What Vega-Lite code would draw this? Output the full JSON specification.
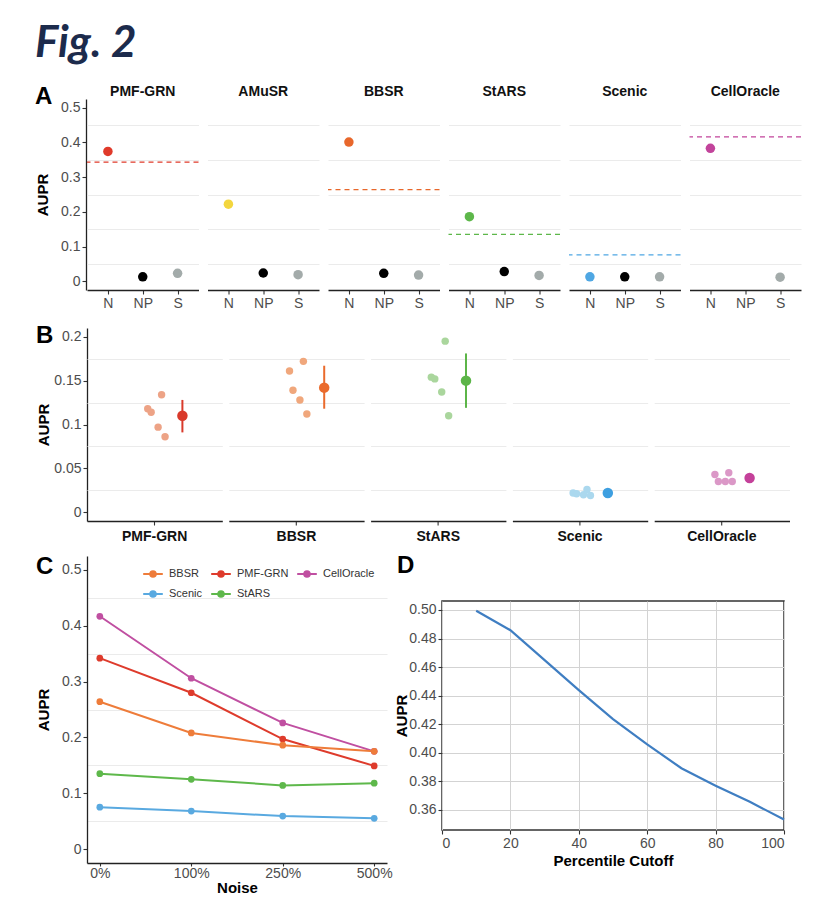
{
  "$schema": "https://vega.github.io/schema/vega-lite/v6.json",
  "background": "white",
  "padding": {"left": 35, "top": 22, "right": 5, "bottom": 5},
  "title": {"text": "Fig. 2", "anchor": "start", "frame": "bounds", "font": "Lato", "fontSize": 44, "fontStyle": "italic", "fontWeight": "bold", "color": "#1C2B4C", "offset": 19},
  "spacing": 10,
  "resolve": {"scale": {"color": "independent"}, "legend": {"color": "independent"}},
  "config": {
    "font": "Liberation Sans",
    "view": {"stroke": null},
    "axis": {"labelColor": "#4D4D4D", "labelFontSize": 14, "titleFontSize": 15, "titleFontWeight": "bold", "titleColor": "#000000", "domainColor": "#222222", "domainWidth": 1.3, "tickColor": "#333333", "tickSize": 4, "tickWidth": 1.1, "labelPadding": 2, "gridColor": "#EBEBEB", "gridWidth": 1},
    "header": {"labelFontSize": 14, "labelFontWeight": "bold", "labelColor": "#111111"},
    "title": {"fontSize": 24, "fontWeight": "bold", "color": "#000000", "anchor": "start", "frame": "bounds"},
    "legend": {"labelFontSize": 11, "labelColor": "#333333"}
  },
  "datasets": {
    "perf": [
      {"method": "PMF-GRN", "cond": "N", "grp": "PMF-GRN", "aupr": 0.374},
      {"method": "PMF-GRN", "cond": "NP", "grp": "NP", "aupr": 0.013},
      {"method": "PMF-GRN", "cond": "S", "grp": "S", "aupr": 0.023},
      {"method": "PMF-GRN", "grp": "PMF-GRN", "baseline": 0.343},
      {"method": "AMuSR", "cond": "N", "grp": "AMuSR", "aupr": 0.222},
      {"method": "AMuSR", "cond": "NP", "grp": "NP", "aupr": 0.024},
      {"method": "AMuSR", "cond": "S", "grp": "S", "aupr": 0.019},
      {"method": "BBSR", "cond": "N", "grp": "BBSR", "aupr": 0.401},
      {"method": "BBSR", "cond": "NP", "grp": "NP", "aupr": 0.023},
      {"method": "BBSR", "cond": "S", "grp": "S", "aupr": 0.018},
      {"method": "BBSR", "grp": "BBSR", "baseline": 0.264},
      {"method": "StARS", "cond": "N", "grp": "StARS", "aupr": 0.186},
      {"method": "StARS", "cond": "NP", "grp": "NP", "aupr": 0.028},
      {"method": "StARS", "cond": "S", "grp": "S", "aupr": 0.017},
      {"method": "StARS", "grp": "StARS", "baseline": 0.135},
      {"method": "Scenic", "cond": "N", "grp": "Scenic", "aupr": 0.013},
      {"method": "Scenic", "cond": "NP", "grp": "NP", "aupr": 0.013},
      {"method": "Scenic", "cond": "S", "grp": "S", "aupr": 0.013},
      {"method": "Scenic", "grp": "Scenic", "baseline": 0.076},
      {"method": "CellOracle", "cond": "N", "grp": "CellOracle", "aupr": 0.383},
      {"method": "CellOracle", "cond": "S", "grp": "S", "aupr": 0.012},
      {"method": "CellOracle", "grp": "CellOracle", "baseline": 0.416}
    ],
    "reps": [
      {"method": "PMF-GRN", "sample": "r1", "aupr": 0.134},
      {"method": "PMF-GRN", "sample": "r2", "aupr": 0.118},
      {"method": "PMF-GRN", "sample": "r3", "aupr": 0.114},
      {"method": "PMF-GRN", "sample": "r4", "aupr": 0.097},
      {"method": "PMF-GRN", "sample": "r5", "aupr": 0.086},
      {"method": "PMF-GRN", "sample": "mean", "aupr": 0.110, "lo": 0.091, "hi": 0.128},
      {"method": "BBSR", "sample": "r1", "aupr": 0.172},
      {"method": "BBSR", "sample": "r2", "aupr": 0.161},
      {"method": "BBSR", "sample": "r3", "aupr": 0.139},
      {"method": "BBSR", "sample": "r4", "aupr": 0.128},
      {"method": "BBSR", "sample": "r5", "aupr": 0.112},
      {"method": "BBSR", "sample": "mean", "aupr": 0.142, "lo": 0.118, "hi": 0.167},
      {"method": "StARS", "sample": "r1", "aupr": 0.195},
      {"method": "StARS", "sample": "r2", "aupr": 0.154},
      {"method": "StARS", "sample": "r3", "aupr": 0.152},
      {"method": "StARS", "sample": "r4", "aupr": 0.137},
      {"method": "StARS", "sample": "r5", "aupr": 0.110},
      {"method": "StARS", "sample": "mean", "aupr": 0.150, "lo": 0.119, "hi": 0.181},
      {"method": "Scenic", "sample": "r1", "aupr": 0.026},
      {"method": "Scenic", "sample": "r2", "aupr": 0.022},
      {"method": "Scenic", "sample": "r3", "aupr": 0.021},
      {"method": "Scenic", "sample": "r4", "aupr": 0.020},
      {"method": "Scenic", "sample": "r5", "aupr": 0.019},
      {"method": "Scenic", "sample": "mean", "aupr": 0.022, "lo": 0.020, "hi": 0.024},
      {"method": "CellOracle", "sample": "r1", "aupr": 0.045},
      {"method": "CellOracle", "sample": "r2", "aupr": 0.043},
      {"method": "CellOracle", "sample": "r3", "aupr": 0.035},
      {"method": "CellOracle", "sample": "r4", "aupr": 0.035},
      {"method": "CellOracle", "sample": "r5", "aupr": 0.035},
      {"method": "CellOracle", "sample": "mean", "aupr": 0.039, "lo": 0.034, "hi": 0.044}
    ],
    "noise": [
      {"method": "CellOracle", "noise": "0%", "aupr": 0.417},
      {"method": "CellOracle", "noise": "100%", "aupr": 0.306},
      {"method": "CellOracle", "noise": "250%", "aupr": 0.226},
      {"method": "CellOracle", "noise": "500%", "aupr": 0.175},
      {"method": "PMF-GRN", "noise": "0%", "aupr": 0.342},
      {"method": "PMF-GRN", "noise": "100%", "aupr": 0.280},
      {"method": "PMF-GRN", "noise": "250%", "aupr": 0.197},
      {"method": "PMF-GRN", "noise": "500%", "aupr": 0.149},
      {"method": "BBSR", "noise": "0%", "aupr": 0.264},
      {"method": "BBSR", "noise": "100%", "aupr": 0.208},
      {"method": "BBSR", "noise": "250%", "aupr": 0.186},
      {"method": "BBSR", "noise": "500%", "aupr": 0.175},
      {"method": "StARS", "noise": "0%", "aupr": 0.135},
      {"method": "StARS", "noise": "100%", "aupr": 0.125},
      {"method": "StARS", "noise": "250%", "aupr": 0.114},
      {"method": "StARS", "noise": "500%", "aupr": 0.118},
      {"method": "Scenic", "noise": "0%", "aupr": 0.075},
      {"method": "Scenic", "noise": "100%", "aupr": 0.068},
      {"method": "Scenic", "noise": "250%", "aupr": 0.059},
      {"method": "Scenic", "noise": "500%", "aupr": 0.055}
    ],
    "cutoff": [
      {"pct": 10, "aupr": 0.4995},
      {"pct": 20, "aupr": 0.4858},
      {"pct": 30, "aupr": 0.4648},
      {"pct": 40, "aupr": 0.4438},
      {"pct": 50, "aupr": 0.4235},
      {"pct": 60, "aupr": 0.4058},
      {"pct": 70, "aupr": 0.3890},
      {"pct": 80, "aupr": 0.3768},
      {"pct": 90, "aupr": 0.3655},
      {"pct": 100, "aupr": 0.3530}
    ]
  },
  "vconcat": [
    {
      "spacing": 14,
      "resolve": {"scale": {"color": "independent"}, "legend": {"color": "independent"}},
      "vconcat": [
        {
          "data": {"name": "perf"},
          "title": {"text": "A", "dy": 28},
          "spacing": 6.5,
          "facet": {"column": {"field": "method", "type": "nominal", "sort": ["PMF-GRN", "AMuSR", "BBSR", "StARS", "Scenic", "CellOracle"], "title": null, "header": {"labelPadding": 0}}},
          "spec": {
            "width": 111.5,
            "height": 191,
            "layer": [
              {
                "transform": [{"filter": "isValid(datum.aupr)"}],
                "mark": {"type": "circle", "size": 90, "opacity": 1},
                "encoding": {
                  "x": {"field": "cond", "type": "nominal", "scale": {"type": "point", "domain": ["N", "NP", "S"], "padding": 0.6}, "axis": {"title": null, "labelAngle": 0, "grid": false}},
                  "y": {"field": "aupr", "type": "quantitative", "scale": {"domain": [-0.025, 0.525], "nice": false, "zero": false}, "axis": {"values": [0, 0.1, 0.2, 0.3, 0.4, 0.5], "format": "~g", "grid": false, "title": "AUPR", "minExtent": 32, "maxExtent": 32, "titlePadding": 4}},
                  "color": {"field": "grp", "type": "nominal", "scale": {"domain": ["PMF-GRN", "AMuSR", "BBSR", "StARS", "Scenic", "CellOracle", "NP", "S"], "range": ["#E03A2A", "#F3D63E", "#E8672B", "#5DB74A", "#4FA7E3", "#C2449B", "#000000", "#A3ABAA"]}, "legend": null}
                }
              },
              {
                "transform": [{"filter": "isValid(datum.baseline)"}],
                "mark": {"type": "rule", "strokeDash": [5, 4], "strokeWidth": 1.3},
                "encoding": {
                  "y": {"field": "baseline", "type": "quantitative", "axis": {"orient": "left", "values": [0.05, 0.15, 0.25, 0.35, 0.45], "grid": true, "labels": false, "ticks": false, "domain": false, "title": null}},
                  "color": {"field": "grp", "type": "nominal", "scale": {"domain": ["PMF-GRN", "AMuSR", "BBSR", "StARS", "Scenic", "CellOracle", "NP", "S"], "range": ["#E03A2A", "#F3D63E", "#E8672B", "#5DB74A", "#4FA7E3", "#C2449B", "#000000", "#A3ABAA"]}, "legend": null}
                }
              }
            ],
            "resolve": {"axis": {"y": "independent"}}
          }
        },
        {
          "data": {"name": "reps"},
          "title": {"text": "B", "dy": 24},
          "spacing": 5.8,
          "facet": {"column": {"field": "method", "type": "nominal", "sort": ["PMF-GRN", "BBSR", "StARS", "Scenic", "CellOracle"], "title": null, "header": {"labelOrient": "bottom", "labelPadding": 4}}},
          "spec": {
            "width": 135.3,
            "height": 193,
            "layer": [
              {
                "transform": [{"filter": "datum.sample != 'mean'"}],
                "mark": {"type": "circle", "size": 55, "opacity": 1},
                "encoding": {
                  "x": {"field": "sample", "type": "nominal", "scale": {"type": "band", "domain": ["a0", "a1", "a2", "a3", "a4", "a5", "a6", "a7", "a8", "a9", "a10", "a11", "a12", "a13", "a14", "a15", "a16", "r2", "r3", "c", "r4", "r1", "r5", "b23", "b24", "b25", "b26", "mean", "z28", "z29", "z30", "z31", "z32", "z33", "z34", "z35", "z36", "z37", "z38"], "paddingInner": 0, "paddingOuter": 0}, "axis": {"values": ["c"], "labels": false, "title": null, "grid": false}},
                  "y": {"field": "aupr", "type": "quantitative", "scale": {"domain": [-0.01, 0.21], "nice": false, "zero": false}, "axis": {"values": [0, 0.05, 0.1, 0.15, 0.2], "format": "~g", "grid": false, "title": "AUPR", "minExtent": 32, "maxExtent": 32, "titlePadding": 4}},
                  "color": {"field": "method", "type": "nominal", "scale": {"domain": ["PMF-GRN", "BBSR", "StARS", "Scenic", "CellOracle"], "range": ["#EDA386", "#F0A77C", "#AAD69D", "#ABD8EE", "#DB98C7"]}, "legend": null}
                }
              },
              {
                "transform": [{"filter": "datum.sample == 'mean'"}],
                "mark": {"type": "rule", "strokeWidth": 2},
                "encoding": {
                  "x": {"field": "sample", "type": "nominal", "axis": {"values": ["c"], "labels": false, "title": null, "grid": false}},
                  "y": {"field": "lo", "type": "quantitative", "axis": {"orient": "left", "values": [0.025, 0.075, 0.125, 0.175], "grid": true, "labels": false, "ticks": false, "domain": false, "title": null}},
                  "y2": {"field": "hi"},
                  "color": {"field": "method", "type": "nominal", "scale": {"domain": ["PMF-GRN", "BBSR", "StARS", "Scenic", "CellOracle"], "range": ["#D93A2B", "#EA6B2D", "#5CB548", "#3E9FE0", "#C4419A"]}, "legend": null}
                }
              },
              {
                "transform": [{"filter": "datum.sample == 'mean'"}],
                "mark": {"type": "circle", "size": 110, "opacity": 1},
                "encoding": {
                  "x": {"field": "sample", "type": "nominal", "axis": {"values": ["c"], "labels": false, "title": null, "grid": false}},
                  "y": {"field": "aupr", "type": "quantitative", "axis": null},
                  "color": {"field": "method", "type": "nominal", "scale": {"domain": ["PMF-GRN", "BBSR", "StARS", "Scenic", "CellOracle"], "range": ["#D93A2B", "#EA6B2D", "#5CB548", "#3E9FE0", "#C4419A"]}, "legend": null}
                }
              }
            ],
            "resolve": {"scale": {"color": "independent"}, "axis": {"y": "independent"}}
          }
        }
      ]
    },
    {
      "spacing": 0,
      "resolve": {"scale": {"color": "independent"}, "legend": {"color": "independent"}},
      "hconcat": [
        {
          "data": {"name": "noise"},
          "title": {"text": "C", "offset": -23},
          "width": 300,
          "height": 307,
          "layer": [
            {
              "mark": {"type": "line", "strokeWidth": 2},
              "encoding": {
                "x": {"field": "noise", "type": "ordinal", "sort": ["0%", "100%", "250%", "500%"], "scale": {"type": "point", "padding": 0.14}, "axis": {"title": "Noise", "labelAngle": 0, "grid": false, "tickSize": 3, "labelPadding": 0, "titlePadding": 0}},
                "y": {"field": "aupr", "type": "quantitative", "scale": {"domain": [-0.025, 0.525], "nice": false, "zero": false}, "axis": {"values": [0, 0.1, 0.2, 0.3, 0.4, 0.5], "format": "~g", "grid": false, "title": "AUPR", "minExtent": 32, "maxExtent": 32, "titlePadding": 4}},
                "color": {"field": "method", "type": "nominal", "scale": {"domain": ["BBSR", "PMF-GRN", "CellOracle", "Scenic", "StARS"], "range": ["#EE7C3A", "#DE3B2C", "#C04FA1", "#59A9E0", "#5EB84B"]}, "legend": {"orient": "none", "legendX": 58, "legendY": 10, "direction": "horizontal", "columns": 3, "gridAlign": "none", "title": null, "symbolType": "M-1.4,0L1.4,0M-0.4,0A0.4,0.4,0,1,1,0.4,0A0.4,0.4,0,1,1,-0.4,0Z", "symbolSize": 196, "symbolStrokeWidth": 2, "labelFontSize": 11, "columnPadding": 4, "rowPadding": 5, "labelOffset": 8}}
              }
            },
            {
              "mark": {"type": "circle", "size": 45, "opacity": 1},
              "encoding": {
                "x": {"field": "noise", "type": "ordinal", "sort": ["0%", "100%", "250%", "500%"], "scale": {"type": "point", "padding": 0.14}, "axis": {"title": "Noise", "labelAngle": 0, "grid": false, "tickSize": 3, "labelPadding": 0, "titlePadding": 0}},
                "y": {"field": "aupr", "type": "quantitative", "axis": {"orient": "left", "values": [0.05, 0.15, 0.25, 0.35, 0.45], "grid": true, "labels": false, "ticks": false, "domain": false, "title": null}},
                "color": {"field": "method", "type": "nominal", "scale": {"domain": ["BBSR", "PMF-GRN", "CellOracle", "Scenic", "StARS"], "range": ["#EE7C3A", "#DE3B2C", "#C04FA1", "#59A9E0", "#5EB84B"]}, "legend": {"orient": "none", "legendX": 58, "legendY": 10, "direction": "horizontal", "columns": 3, "gridAlign": "none", "title": null, "symbolType": "M-1.4,0L1.4,0M-0.4,0A0.4,0.4,0,1,1,0.4,0A0.4,0.4,0,1,1,-0.4,0Z", "symbolSize": 196, "symbolStrokeWidth": 2, "labelFontSize": 11, "columnPadding": 4, "rowPadding": 5, "labelOffset": 8}}
              }
            }
          ],
          "resolve": {"axis": {"y": "independent"}}
        },
        {
          "spacing": 0,
          "vconcat": [
            {
              "data": {"values": []},
              "title": {"text": "D", "offset": -22, "dx": -45},
              "width": 342,
              "height": 44,
              "mark": "point"
            },
            {
              "data": {"name": "cutoff"},
              "width": 342,
              "height": 229,
              "view": {"stroke": "#333333", "strokeWidth": 1.5},
              "mark": {"type": "line", "color": "#3F7EC2", "strokeWidth": 2.2},
              "encoding": {
                "x": {"field": "pct", "type": "quantitative", "scale": {"domain": [0, 100], "nice": false}, "axis": {"values": [0, 20, 40, 60, 80, 100], "title": "Percentile Cutoff", "grid": true, "gridColor": "#D3D3D3", "domain": false, "titlePadding": 3}},
                "y": {"field": "aupr", "type": "quantitative", "scale": {"domain": [0.3457, 0.5063], "nice": false, "zero": false}, "axis": {"values": [0.36, 0.38, 0.4, 0.42, 0.44, 0.46, 0.48, 0.5], "format": ".2f", "title": "AUPR", "grid": true, "gridColor": "#D3D3D3", "domain": false, "titlePadding": 2, "minExtent": 31, "maxExtent": 31}}
              }
            }
          ]
        }
      ]
    }
  ]
}
